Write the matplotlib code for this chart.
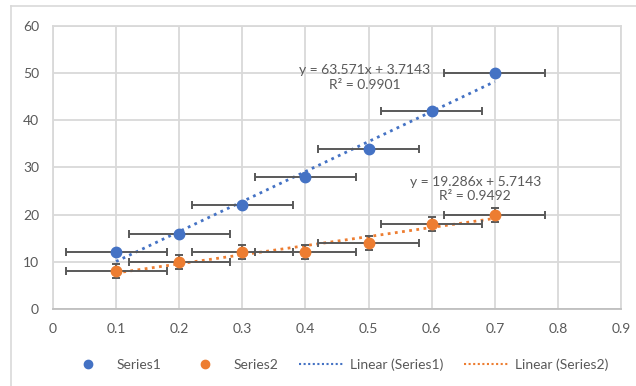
import numpy as np
import matplotlib
matplotlib.use("Agg")
import matplotlib.pyplot as plt
from matplotlib.lines import Line2D

plt.rcParams['font.family'] = ['Lato', 'DejaVu Sans']

# данные
x = [0.1, 0.2, 0.3, 0.4, 0.5, 0.6, 0.7]
s1 = [12, 16, 22, 28, 34, 42, 50]
s2 = [8, 10, 12, 12, 14, 18, 20]
x_err = 0.08
s2_err = 1.5

blue = '#4472C4'
orange = '#ED7D31'
grey_txt = '#595959'
grid_c = '#D9D9D9'
fs = 10

fig = plt.figure(figsize=(6.36, 3.86), dpi=100)
ax = fig.add_axes([53/636, 1-309/386, (621-53)/636, (309-26)/386])

# рамка диаграммы
fig.add_artist(Line2D([11/636, 1], [1-6/386, 1-6/386], color=grid_c, lw=1.2))
fig.add_artist(Line2D([11/636, 11/636], [0, 1-6/386], color=grid_c, lw=1.2))

# линии тренда
for ys, c in [(s1, blue), (s2, orange)]:
    k, b = np.polyfit(x, ys, 1)
    xx = np.array([min(x), max(x)])
    ax.plot(xx, k*xx + b, ls=(0, (1, 1.6)), color=c, lw=2.0, zorder=3)

# планки погрешностей
ax.errorbar(x, s1, xerr=x_err, fmt='none', ecolor=grey_txt, elinewidth=1.4,
            capsize=3, capthick=1.4, zorder=4)
ax.errorbar(x, s2, xerr=x_err, yerr=s2_err, fmt='none', ecolor=grey_txt,
            elinewidth=1.4, capsize=3, capthick=1.4, zorder=4)

ax.plot(x, s1, 'o', color=blue, ms=7.5, zorder=5)
ax.plot(x, s2, 'o', color=orange, ms=7.5, zorder=5)

# уравнения
def eq_text(ys):
    k, b = np.polyfit(x, ys, 1)
    r2 = np.corrcoef(x, ys)[0, 1]**2
    return "y = %.3fx + %.4f\nR² = %.4f" % (k, b, r2)

ax.text(0.494, 49.1, eq_text(s1), ha='center', va='center', color=grey_txt,
        fontsize=fs, linespacing=1.25, zorder=6)
ax.text(0.669, 25.4, eq_text(s2), ha='center', va='center', color=grey_txt,
        fontsize=fs, linespacing=1.25, zorder=6)

ax.set_xlim(0, 0.9)
ax.set_ylim(0, 60)
ax.set_xticks(np.arange(0, 0.91, 0.1))
ax.set_xticklabels(['0', '0.1', '0.2', '0.3', '0.4', '0.5', '0.6', '0.7', '0.8', '0.9'])
ax.set_yticks(range(0, 61, 10))
ax.grid(color=grid_c, lw=1.3, zorder=0)
ax.set_axisbelow(True)
for s in ['left', 'right', 'top']:
    ax.spines[s].set_color(grid_c)
    ax.spines[s].set_linewidth(1.3)
ax.spines['bottom'].set_color('#BFBFBF')
ax.spines['bottom'].set_linewidth(1.3)
ax.tick_params(length=0, labelsize=fs, labelcolor=grey_txt)
ax.tick_params(axis='y', pad=10)
ax.tick_params(axis='x', pad=10)

handles = [
    Line2D([], [], marker='o', ls='none', color=blue, ms=6),
    Line2D([], [], marker='o', ls='none', color=orange, ms=6),
    Line2D([], [], ls=(0, (1, 1.2)), color=blue, lw=1.5),
    Line2D([], [], ls=(0, (1, 1.2)), color=orange, lw=1.5),
]
labels = ['Series1', 'Series2', 'Linear (Series1)', 'Linear (Series2)']
fig.legend(handles, labels, loc='center', bbox_to_anchor=(337/636, 1-365/386),
           ncol=4, frameon=False, fontsize=fs, labelcolor=grey_txt,
           handlelength=3.2, columnspacing=1.5, handletextpad=0.45)

fig.savefig('out.png', dpi=100)
